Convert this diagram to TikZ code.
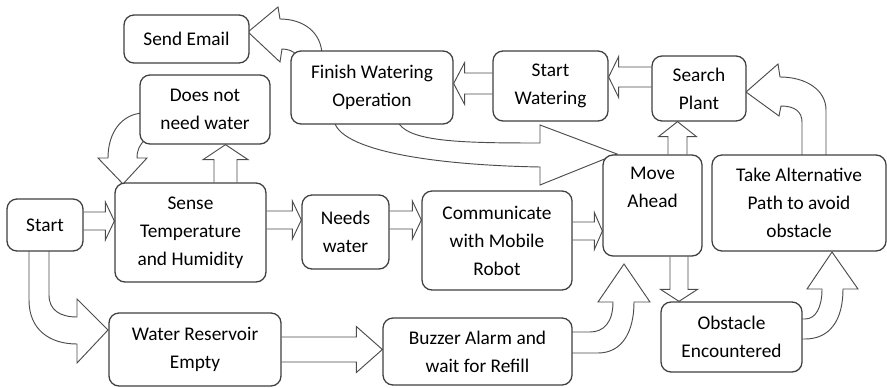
\documentclass[tikz,border=0pt]{standalone}
\usepackage{fontspec}
\setmainfont{Carlito}
\usetikzlibrary{calc,backgrounds}

% hollow block arrow: tail, tip, shaft half width, head half width, head length
\newcommand\fatarrow[5]{%
  \path (#1) coordinate (fa-t) (#2) coordinate (fa-p);
  \path ($(fa-p)!#5!(fa-t)$) coordinate (fa-h);
  \draw[hollow] ($(fa-t)!#3!90:(fa-p)$) -- ($(fa-h)!#3!90:(fa-p)$)
    -- ($(fa-h)!#4!90:(fa-p)$) -- (fa-p) -- ($(fa-h)!#4!-90:(fa-p)$)
    -- ($(fa-h)!#3!-90:(fa-p)$) -- ($(fa-t)!#3!-90:(fa-p)$);}

\begin{document}
\begin{tikzpicture}[
    x=0.3mm,y=-0.3mm,
    box/.style={draw=black!75,line width=1.1pt,rounded corners=3mm,fill=white,align=center,inner sep=1pt,font=\fontsize{16.5}{23.9}\selectfont},
    hollow/.style={draw=black!70,line width=0.8pt,fill=white,line join=miter}
]
\useasboundingbox (0,0) rectangle (887,387);

% top row
\node[box,minimum width=37.5mm,minimum height=14.4mm] (email) at (186.5,39) {Send Email};
\node[box,minimum width=48.6mm,minimum height=21.9mm] (finish) at (372,87.5) {Finish Watering\\Operation};
\node[box,minimum width=39mm,minimum height=20.7mm] (dnw) at (205,109.5) {Does not\\need water};
\node[box,minimum width=34.5mm,minimum height=21mm] (startw) at (550.5,86) {Start\\Watering};
\node[box,minimum width=28.2mm,minimum height=19.5mm] (search) at (699,88.5) {Search\\Plant};

% middle row
\node[box,minimum width=22.8mm,minimum height=15.6mm] (start) at (45,225) {Start};
\node[box,minimum width=45.3mm,minimum height=29.7mm] (sense) at (190.5,232.5) {Sense\\Temperature\\and Humidity};
\node[box,minimum width=26.1mm,minimum height=22.2mm] (needs) at (345.5,232) {Needs\\water};
\node[box,minimum width=45mm,minimum height=29.7mm] (comm) at (497,240.5) {Communicate\\with Mobile\\Robot};
\node[box,minimum width=29.7mm,minimum height=30.3mm] (move) at (652.5,205.5) {Move\\Ahead\\\strut};
\node[box,minimum width=52.2mm,minimum height=28.8mm] (takealt) at (799,203) {Take Alternative\\Path to avoid\\obstacle};

% bottom row
\node[box,minimum width=51.6mm,minimum height=21.9mm] (reservoir) at (195,349.5) {Water Reservoir\\Empty};
\node[box,minimum width=56.7mm,minimum height=20.1mm] (buzzer) at (477.5,351.5) {Buzzer Alarm and\\wait for Refill};
\node[box,minimum width=42.3mm,minimum height=21mm] (obstacle) at (731.5,337) {Obstacle\\Encountered};

\begin{scope}[on background layer]
% straight block arrows
\fatarrow{start.east |- 0,221}{sense.west |- 0,221}{2.7mm}{5.7mm}{2.7mm}
\fatarrow{sense.east |- 0,220}{needs.west |- 0,220}{2.7mm}{5.7mm}{2.7mm}
\fatarrow{needs.east |- 0,220}{comm.west |- 0,220}{2.7mm}{5.7mm}{2.7mm}
\fatarrow{comm.east |- 0,231}{move.west |- 0,231}{2.7mm}{5.55mm}{2.4mm}
\fatarrow{reservoir.east |- 0,349.5}{buzzer.west |- 0,349.5}{3.75mm}{6.9mm}{7.8mm}
\fatarrow{225.5,0 |- sense.north}{225.5,0 |- dnw.south}{3.45mm}{6.75mm}{4.5mm}
\fatarrow{677.5,0 |- move.north}{677.5,0 |- search.south}{2.85mm}{5.7mm}{4.5mm}
\fatarrow{679,0 |- move.south}{679,0 |- obstacle.north}{2.7mm}{5.55mm}{3.6mm}
\fatarrow{search.west |- 0,77}{startw.east |- 0,77}{3mm}{6.15mm}{3mm}
\fatarrow{startw.west |- 0,83.5}{finish.east |- 0,83.5}{3.15mm}{6.3mm}{3.3mm}

% bent block arrows
\draw[hollow] (322,56) .. controls (322,32) and (303,19) .. (280,19) -- (278,7) -- (248,32)
  -- (280,62) -- (282,49) .. controls (288,49) and (293,51) .. (297,55);
\draw[hollow] (143,113) .. controls (122,114) and (108,132) .. (108,158) -- (98,158) -- (123,184)
  -- (147,158) -- (137,158) .. controls (137,150) and (140,144) .. (145,140);
\draw[hollow] (29,248) -- (29,300) .. controls (29,330) and (50,344) .. (77,344) -- (77,363)
  -- (108,330) -- (77,299) -- (77,317) .. controls (60,317) and (49,310) .. (49,295) -- (49,248);
\draw[hollow] (569,353) -- (598,353) .. controls (622,353) and (634,332) .. (634,302) -- (650,302)
  -- (624,264) -- (598,302) -- (613,302) .. controls (613,322) and (604,332) .. (590,332) -- (569,332);
\draw[hollow] (798,339) -- (805,339) .. controls (830,339) and (843,320) .. (843,289) -- (858,289)
  -- (832,252) -- (807,289) -- (822,289) .. controls (822,307) and (816,319) .. (805,319) -- (798,319);
\draw[hollow] (826,157) -- (826,110) .. controls (826,90) and (806,77) .. (780,77) -- (778,64)
  -- (746,92) -- (779,116) -- (781,106) .. controls (795,106) and (802,112) .. (802,122) -- (802,157);
\draw[hollow] (334,120) .. controls (338,150) and (430,165) .. (540,167) -- (540,185) -- (617,154)
  -- (540,125) -- (540,143) .. controls (460,143) and (405,142) .. (397,120);
\end{scope}
\end{tikzpicture}
\end{document}
